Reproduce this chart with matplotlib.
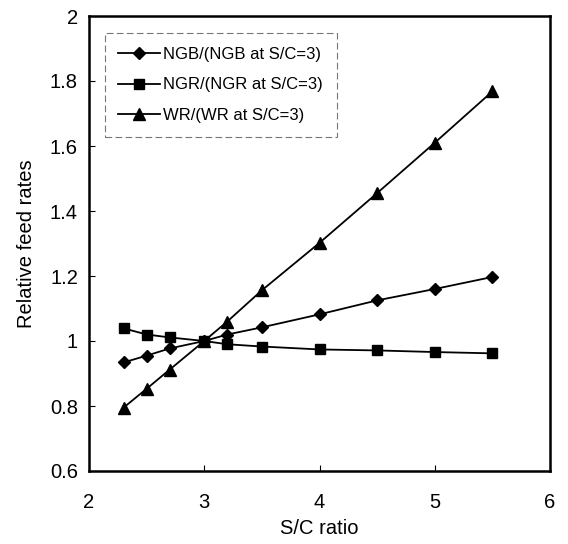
import matplotlib
matplotlib.use("Agg")
import matplotlib.pyplot as plt

sc_ratio = [2.3, 2.5, 2.7, 3.0, 3.2, 3.5, 4.0, 4.5, 5.0, 5.5]
ngb = [0.934, 0.955, 0.977, 1.0, 1.02, 1.042, 1.082, 1.125, 1.16, 1.197]
ngr = [1.039, 1.02, 1.011, 1.0, 0.99, 0.983, 0.974, 0.971, 0.966, 0.962]
wr = [0.795, 0.853, 0.912, 1.0, 1.06, 1.156, 1.302, 1.455, 1.61, 1.768]
labels = ["NGB/(NGB at S/C=3)", "NGR/(NGR at S/C=3)", "WR/(WR at S/C=3)"]
xticks = [2, 3, 4, 5, 6]
yticks = [0.6, 0.8, 1.0, 1.2, 1.4, 1.6, 1.8, 2.0]
yticklabels = ["0.6", "0.8", "1", "1.2", "1.4", "1.6", "1.8", "2"]

plt.rcParams['font.family'] = ['Liberation Sans', 'DejaVu Sans']

fig = plt.figure(figsize=(5.68, 5.44), dpi=100)
ax = fig.add_axes([89/568, 73/544, 461/568, 455/544])

ax.plot(sc_ratio, ngb, color='black', lw=1.3, marker='D', ms=6.5, label=labels[0])
ax.plot(sc_ratio, ngr, color='black', lw=1.3, marker='s', ms=7.5, label=labels[1])
ax.plot(sc_ratio, wr, color='black', lw=1.3, marker='^', ms=8.5, label=labels[2])

ax.set_xlim(2, 6)
ax.set_ylim(0.6, 2.0)
ax.set_xticks(xticks)
ax.set_xticklabels([str(t) for t in xticks])
ax.set_yticks(yticks)
ax.set_yticklabels(yticklabels)
ax.tick_params(direction='in', length=4, width=0.8, labelsize=14.5)
ax.tick_params(axis='x', pad=16)
ax.tick_params(axis='y', pad=8)
for s in ax.spines.values():
    s.set_linewidth(1.8)

ax.set_xlabel("S/C ratio", fontsize=14.5, labelpad=5)
ax.set_ylabel("Relative feed rates", fontsize=14.5, labelpad=10)

leg = ax.legend(loc='upper left', bbox_to_anchor=(0.035, 0.962), fontsize=12,
                frameon=True, fancybox=False, handlelength=2.5, handletextpad=0.2,
                labelspacing=0.95, borderpad=0.8, borderaxespad=0)
leg.get_frame().set_edgecolor('#555555')
leg.get_frame().set_linewidth(0.8)
leg.get_frame().set_linestyle((0, (6, 3)))

fig.savefig("out.png", dpi=100)
